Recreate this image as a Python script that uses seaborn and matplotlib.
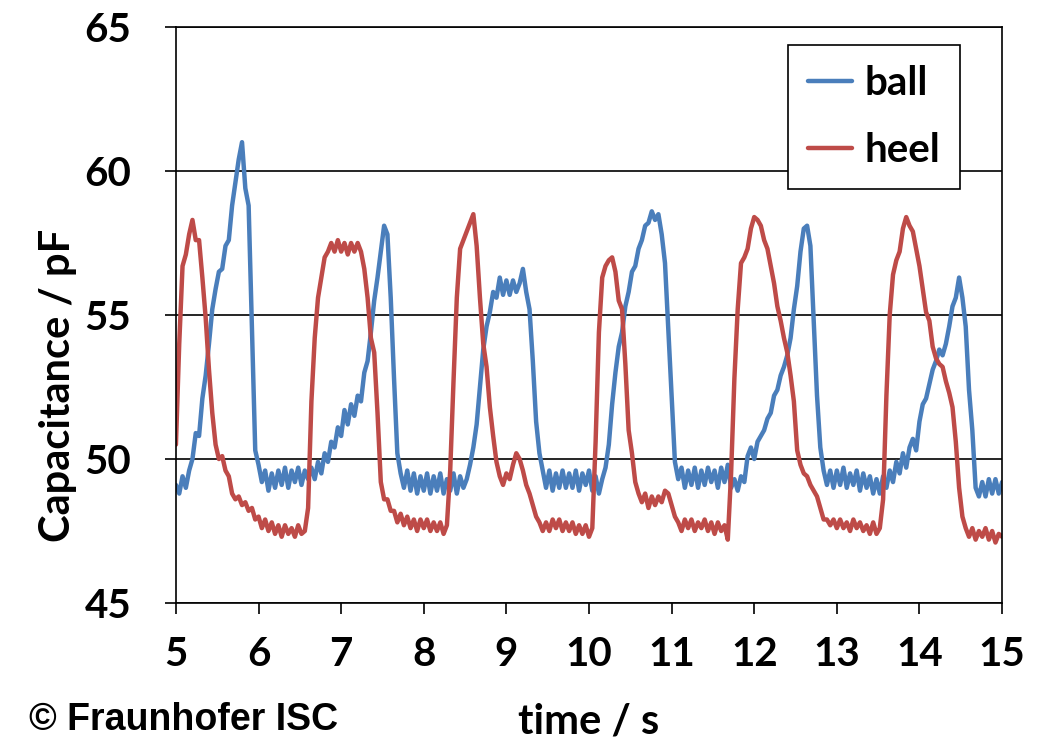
import matplotlib
matplotlib.use("Agg")
import matplotlib.pyplot as plt
import numpy as np
import pandas as pd
import seaborn as sns

# sampling clock of the recording (s)
T_START = 5.0
T_STEP = 0.04

# capacitance readings (pF), one row = 0.4 s
ball_pf = [
    49.1, 48.8, 49.4, 49.0, 49.6, 50.0, 50.9, 50.8, 52.1, 52.9,
    54.0, 55.2, 55.9, 56.5, 56.6, 57.4, 57.6, 58.8, 59.6, 60.4,
    61.0, 59.4, 58.8, 54.5, 50.3, 49.8, 49.2, 49.6, 48.9, 49.5,
    49.0, 49.6, 49.1, 49.7, 49.0, 49.6, 49.2, 49.7, 49.1, 49.6,
    49.3, 49.7, 49.3, 49.9, 49.5, 50.2, 49.9, 50.6, 50.4, 51.1,
    50.8, 51.7, 51.2, 51.9, 51.5, 52.2, 52.0, 53.0, 53.4, 54.4,
    55.5, 56.3, 57.2, 58.1, 57.8, 55.6, 52.8, 50.2, 49.5, 49.0,
    49.6, 48.9, 49.5, 48.8, 49.4, 48.9, 49.5, 48.8, 49.4, 48.9,
    49.5, 48.8, 49.3, 48.9, 49.5, 48.8, 49.4, 49.0, 49.3, 49.8,
    50.4, 51.2, 52.5, 53.8, 54.6, 55.1, 55.8, 55.6, 56.3, 55.7,
    56.2, 55.7, 56.2, 55.8, 56.1, 56.6, 55.8, 55.2, 53.4, 51.3,
    50.2, 49.6, 49.0, 49.6, 48.9, 49.5, 49.0, 49.6, 49.0, 49.5,
    49.0, 49.6, 48.9, 49.5, 49.1, 49.6, 48.9, 49.4, 48.8, 49.3,
    49.7, 50.5, 51.9, 53.0, 53.9, 54.4, 55.3, 55.8, 56.5, 56.7,
    57.3, 57.6, 58.1, 58.2, 58.6, 58.3, 58.5, 57.8, 56.8, 54.5,
    52.2, 49.9, 49.3, 49.7, 49.0, 49.6, 49.1, 49.7, 49.0, 49.6,
    49.1, 49.7, 49.2, 49.6, 49.0, 49.7, 49.2, 49.8, 49.0, 49.3,
    48.9, 49.4, 49.2, 50.1, 50.4, 50.0, 50.6, 50.8, 51.0, 51.4,
    51.6, 52.2, 52.4, 52.9, 53.2, 53.6, 54.2, 55.2, 56.0, 57.2,
    58.0, 58.1, 57.4, 54.8, 52.2, 50.4, 49.6, 49.1, 49.6, 49.0,
    49.6, 49.1, 49.7, 49.0, 49.5, 49.1, 49.6, 48.9, 49.5, 49.0,
    49.4, 48.8, 49.3, 48.8, 49.4, 49.0, 49.6, 49.2, 49.9, 49.5,
    50.2, 49.7, 50.4, 50.7, 50.3, 51.3, 51.9, 52.1, 52.6, 53.1,
    53.4, 53.8, 53.6, 54.0, 54.6, 55.3, 55.6, 56.3, 55.6, 54.6,
    52.4, 51.0, 49.0, 48.7, 49.2, 48.7, 49.3, 48.8, 49.3, 48.8,
    49.2,
]
heel_pf = [
    50.5, 54.0, 56.7, 57.1, 57.8, 58.3, 57.6, 57.6, 56.3, 54.9,
    53.1, 51.6, 50.5, 50.0, 50.1, 49.6, 49.4, 48.8, 48.6, 48.7,
    48.4, 48.5, 48.2, 48.3, 47.9, 48.0, 47.6, 47.9, 47.5, 47.8,
    47.4, 47.7, 47.3, 47.7, 47.4, 47.6, 47.3, 47.7, 47.4, 47.5,
    48.3, 52.0, 54.2, 55.6, 56.3, 57.0, 57.2, 57.5, 57.2, 57.6,
    57.2, 57.5, 57.1, 57.5, 57.2, 57.5, 57.2, 56.6, 55.6, 54.2,
    53.7, 51.6, 49.2, 48.6, 48.6, 48.2, 48.2, 47.8, 48.1, 47.7,
    48.0, 47.6, 47.9, 47.5, 47.9, 47.6, 47.9, 47.5, 47.8, 47.5,
    47.8, 47.4, 47.7, 49.6, 52.7, 55.6, 57.3, 57.6, 57.9, 58.2,
    58.5, 57.4, 55.6, 54.0, 53.2, 51.8, 50.8, 49.9, 49.4, 49.1,
    49.5, 49.3, 49.8, 50.2, 50.0, 49.6, 49.1, 48.8, 48.4, 48.0,
    47.8, 47.5, 47.8, 47.5, 47.9, 47.6, 47.9, 47.5, 47.8, 47.5,
    47.8, 47.4, 47.7, 47.4, 47.7, 47.3, 47.6, 50.6, 54.4, 56.3,
    56.7, 56.9, 57.0, 56.5, 55.5, 55.2, 53.3, 51.0, 50.2, 49.2,
    48.8, 48.5, 48.8, 48.3, 48.7, 48.4, 48.7, 48.5, 48.9, 48.8,
    48.4, 48.0, 47.8, 47.5, 47.9, 47.6, 47.9, 47.5, 47.8, 47.6,
    47.9, 47.5, 47.8, 47.4, 47.8, 47.5, 47.7, 47.2, 49.5, 52.8,
    55.2, 56.8, 57.0, 57.3, 58.0, 58.4, 58.3, 58.1, 57.6, 57.3,
    56.7, 56.1, 55.3, 54.8, 54.2, 53.7, 52.9, 52.0, 50.3, 49.8,
    49.5, 49.4, 49.1, 48.9, 48.7, 48.3, 47.9, 47.9, 47.7, 47.9,
    47.6, 47.9, 47.6, 47.8, 47.5, 47.9, 47.6, 47.8, 47.5, 47.7,
    47.4, 47.8, 47.4, 47.6, 48.6, 52.2, 55.0, 56.4, 56.9, 57.2,
    58.0, 58.4, 58.1, 57.9, 57.3, 56.7, 55.9, 55.1, 54.8, 53.9,
    53.5, 53.3, 53.2, 52.7, 52.3, 51.8, 50.6, 49.0, 48.0, 47.6,
    47.3, 47.6, 47.2, 47.5, 47.3, 47.6, 47.2, 47.5, 47.1, 47.4,
    47.3,
]
series_names = ["ball", "heel"]
series_colors = ["#4a7ebb", "#be4b48"]

y_ticks = [45, 50, 55, 60, 65]
x_ticks = [5, 6, 7, 8, 9, 10, 11, 12, 13, 14, 15]

time_s = np.round(T_START + T_STEP * np.arange(len(ball_pf)), 2)
df = pd.concat(
    [
        pd.DataFrame({"time": time_s, "cap": ball_pf, "sensor": "ball"}),
        pd.DataFrame({"time": time_s, "cap": heel_pf, "sensor": "heel"}),
    ],
    ignore_index=True,
)

sns.set_theme(style="white")
plt.rcParams["font.family"] = ["Lato", "DejaVu Sans"]
plt.rcParams["font.weight"] = "bold"
plt.rcParams["text.color"] = "black"
plt.rcParams["axes.labelcolor"] = "black"
plt.rcParams["xtick.color"] = "black"
plt.rcParams["ytick.color"] = "black"

fig = plt.figure(figsize=(10.41, 7.43), dpi=100)
ax = fig.add_axes([0.169, 0.1884, 0.7936, 0.7753])

sns.lineplot(
    data=df,
    x="time",
    y="cap",
    hue="sensor",
    hue_order=series_names,
    palette=dict(zip(series_names, series_colors)),
    estimator=None,
    sort=False,
    lw=3.2,
    ax=ax,
)

ax.set_xlim(5, 15)
ax.set_ylim(45, 65)
ax.set_xticks(x_ticks)
ax.set_yticks(y_ticks)
ax.set_xticklabels([str(v) for v in x_ticks], fontsize=29, fontweight="bold", color="black")
ax.set_yticklabels([str(v) for v in y_ticks], fontsize=29, fontweight="bold", color="black")
ax.tick_params(axis="both", which="major", direction="out", length=8, width=1.2,
               colors="black", bottom=True, left=True, top=False, right=False)
ax.tick_params(axis="x", pad=16)
ax.tick_params(axis="y", pad=24)
ax.yaxis.grid(True, color="black", lw=1.2)
ax.xaxis.grid(False)
for side in ("top", "right", "left", "bottom"):
    ax.spines[side].set_visible(True)
    ax.spines[side].set_color("black")
    ax.spines[side].set_linewidth(1.2)

ax.set_xlabel("time / s", fontsize=30, fontweight="bold", color="black")
ax.xaxis.set_label_coords(0.5, -0.226)
ax.xaxis.label.set_va("baseline")
ax.set_ylabel("Capacitance / pF", fontsize=30, fontweight="bold", color="black")
ax.yaxis.set_label_coords(-0.128, 0.377)
ax.yaxis.label.set_va("baseline")

leg = ax.legend(
    loc="upper right",
    bbox_to_anchor=(0.949, 0.969),
    borderaxespad=0.0,
    fontsize=29,
    frameon=True,
    fancybox=False,
    handlelength=1.1,
    handletextpad=0.3,
    borderpad=0.5,
    labelspacing=0.75,
    title=None,
)
leg.get_frame().set_edgecolor("black")
leg.get_frame().set_linewidth(1.2)
leg.get_frame().set_alpha(1.0)
for txt in leg.get_texts():
    txt.set_fontweight("bold")
    txt.set_color("black")

fig.text(0.028, 0.0175, "\u00a9 Fraunhofer ISC", fontsize=27, fontweight="bold",
         family=["Liberation Sans", "DejaVu Sans"], ha="left", va="baseline", color="black")

fig.savefig("out.png", dpi=100)
plt.close(fig)
